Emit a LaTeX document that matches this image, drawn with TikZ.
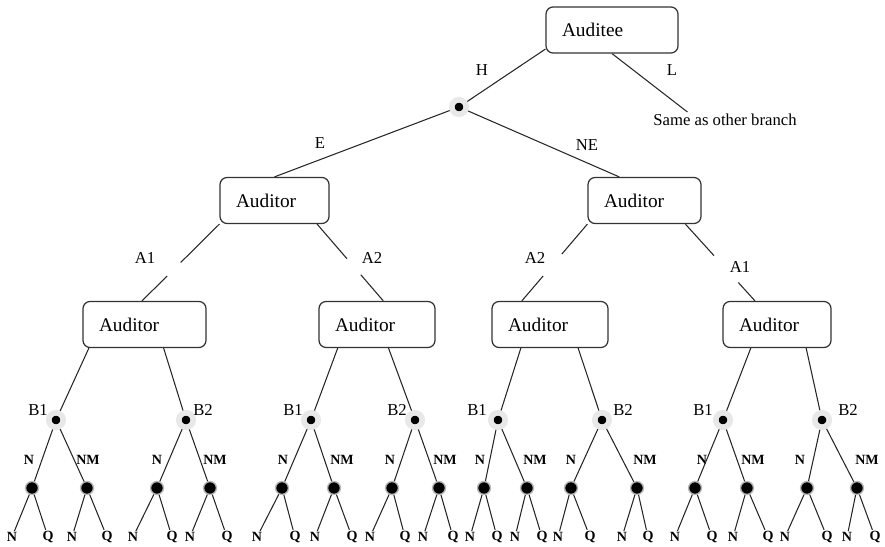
\documentclass[tikz,border=0pt]{standalone}
\usepackage{fontspec}
\setmainfont{Liberation Serif}
\usetikzlibrary{positioning}
\tikzset{>=latex}
\tikzset{
  box/.style = {draw=black!80, line width=0.7pt, rounded corners=4pt, minimum height=0.92cm,
                inner xsep=0.32cm, align=left, font=\fontsize{11}{13}\selectfont},
  lbl/.style = {inner sep=1pt, font=\fontsize{9.5}{11}\selectfont},
  small/.style = {inner sep=0.6pt, font=\fontsize{8}{9}\selectfont\bfseries},
  chance/.style = {circle, fill=black, inner sep=2.9pt, draw=gray!18, line width=3.2pt},
  move/.style = {circle, fill=black, inner sep=2.6pt, draw=gray!55, line width=0.8pt},
  branch/.style = {draw=black!85, line width=0.6pt}
}
\begin{document}
\begin{tikzpicture}[x=0.02cm, y=-0.02cm]
\useasboundingbox (0,0) rectangle (885,547);
% auditee and nature
\node [box, text width=2cm] (auditee) at (612,30) {Auditee};
\node [chance] (c0) at (459,107) {};
\node [lbl] (same) at (725,120) {Same as other branch};
\node [lbl] (h) at (482,70) {H};
\node [lbl] (l) at (672,70) {L};
\draw [branch] (auditee.196) to (c0);
\draw [branch] (auditee.south) to (same.168);
% first auditor moves
\node [box, text width=1.54cm] (aud1) at (274.5,200.5) {Auditor};
\node [box, text width=1.62cm] (aud2) at (644.5,200.5) {Auditor};
\node [lbl] (e) at (320,143) {E};
\node [lbl] (ne) at (587,145) {NE};
\draw [branch] (c0) to (aud1.north);
\draw [branch] (c0) to (aud2.137);
% second auditor moves (lines broken at the labels)
\node [box, text width=1.82cm] (aud11) at (144.5,324.5) {Auditor};
\node [box, text width=1.68cm] (aud12) at (377,324.5) {Auditor};
\node [box, text width=1.68cm] (aud21) at (550,324.5) {Auditor};
\node [box, text width=1.52cm] (aud22) at (777,324.5) {Auditor};
\node [lbl] (a11) at (145,258) {A1};
\node [lbl] (a12) at (372,258) {A2};
\node [lbl] (a21) at (535,258) {A2};
\node [lbl] (a22) at (740,267) {A1};
\path (aud1.south west) -- coordinate[pos=0.5] (g11a) coordinate[pos=0.675] (g11b) (aud11.96);
\path (aud1.331) -- coordinate[pos=0.45] (g12a) coordinate[pos=0.66] (g12b) (aud12.75);
\path (aud2.south west) -- coordinate[pos=0.39] (g21a) coordinate[pos=0.675] (g21b) (aud21.140);
\path (aud2.330) -- coordinate[pos=0.41] (g22a) coordinate[pos=0.76] (g22b) (aud22.133);
\draw [branch] (aud1.south west) -- (g11a) (g11b) -- (aud11.96);
\draw [branch] (aud1.331) -- (g12a) (g12b) -- (aud12.75);
\draw [branch] (aud2.south west) -- (g21a) (g21b) -- (aud21.140);
\draw [branch] (aud2.330) -- (g22a) (g22b) -- (aud22.133);
% last moves and outcomes
\foreach \i/\x/\n/\q in {1/32/12/48, 2/87/72/107, 3/157/133/172, 4/210/190/227,
                         5/282/257/295, 6/334/315/352, 7/392/370/405, 8/439/423/453,
                         9/484/470/497, 10/527/515/542, 11/571/558/590, 12/637/622/648,
                         13/695/675/712, 14/747/733/768, 15/807/785/827, 16/857/847/875}{
  \node [move] (m\i) at (\x,488) {};
  \node [small] (n\i) at (\n,537) {N};
  \node [small] (q\i) at (\q,537) {Q};
  \draw [branch] (m\i) to (n\i);
  \draw [branch] (m\i) to (q\i);
}
\foreach \j/\x/\bname/\lx/\nx/\nmx in {1/56/B1/38/29/88, 2/186/B2/203/157/215,
                                       3/311/B1/293/283/342, 4/415/B2/397/390/445,
                                       5/498/B1/477/480/535, 6/602/B2/623/571/645,
                                       7/723/B1/703/702/753, 8/822/B2/848/800/867}{
  \pgfmathtruncatemacro\ka{2*\j-1}
  \pgfmathtruncatemacro\kb{2*\j}
  \node [chance] (b\j) at (\x,420) {};
  \node [lbl] (bl\j) at (\lx,410) {\bname};
  \node [small] (nl\j) at (\nx,460) {N};
  \node [small] (nml\j) at (\nmx,460) {NM};
  \draw [branch] (b\j) to (m\ka);
  \draw [branch] (b\j) to (m\kb);
}
\draw [branch] (aud11.203) to (b1);
\draw [branch] (aud11.309) to (b2);
\draw [branch] (aud12.211) to (b3);
\draw [branch] (aud12.296) to (b4);
\draw [branch] (aud21.219) to (b5);
\draw [branch] (aud21.320) to (b6);
\draw [branch] (aud22.222) to (b7);
\draw [branch] (aud22.321) to (b8);
\end{tikzpicture}
\end{document}
